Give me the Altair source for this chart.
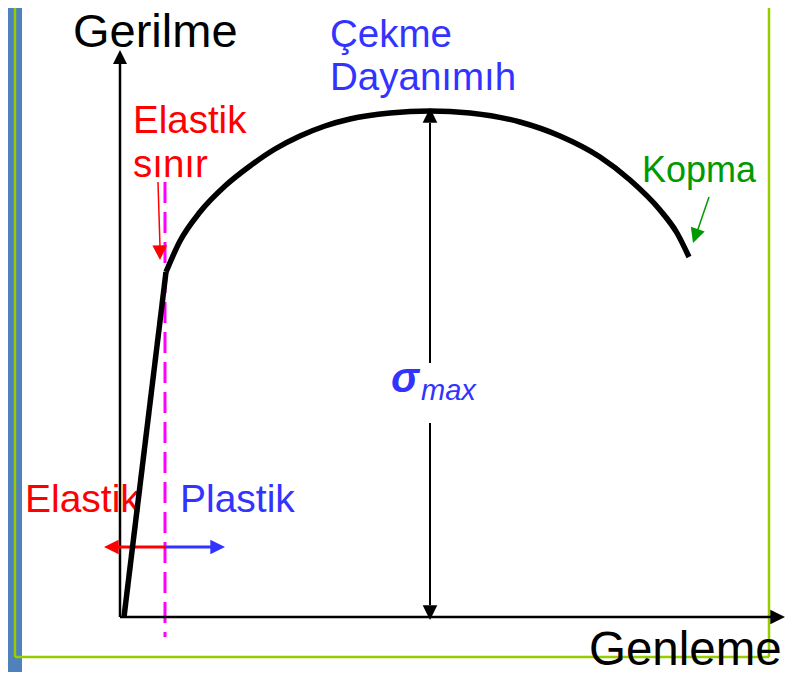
import altair as alt
import pandas as pd

# ---- data (strain = horizontal units from origin, stress = vertical units from origin) ----
elastic_strain = [4, 46]
elastic_stress = [0, 345]

plastic_strain = [46, 60, 80, 105, 130, 155, 180, 205, 230, 270, 310, 350, 400, 440, 480, 510, 540, 557, 569]
plastic_stress = [345, 376, 405, 431, 451, 468, 481, 491, 498, 504, 506, 504, 495, 481, 460, 437, 407, 384, 360]

sigma_max_strain = 310
elastic_limit_strain = 45

labels_main = ["Gerilme", "Genleme"]
labels_red = ["Elastik", "sınır", "Elastik"]
labels_blue = ["Çekme", "Dayanımıh", "Plastik"]
label_green = ["Kopma"]

W, H = 778, 664
xs = alt.Scale(domain=[-112, 666], nice=False, zero=False)
ys = alt.Scale(domain=[-55, 609], nice=False, zero=False)
FONT = "Liberation Sans"


def X(f):
    return alt.X(f, type="quantitative", scale=xs, axis=None)


def Y(f):
    return alt.Y(f, type="quantitative", scale=ys, axis=None)


# ---- frame ----
band = pd.DataFrame({"s1": [-112], "s2": [-98], "t1": [-55], "t2": [609]})
band_layer = alt.Chart(band).mark_rect(color="#4F81BD").encode(
    x=X("s1"), x2="s2", y=Y("t1"), y2="t2")

frame = pd.DataFrame({
    "s1": [-105, 649, -105],
    "t1": [609, 609, -40],
    "s2": [-105, 649, 649],
    "t2": [-40, -40, -40],
})
frame_layer = alt.Chart(frame).mark_rule(color="#99CC00", strokeWidth=2.5).encode(
    x=X("s1"), y=Y("t1"), x2="s2", y2="t2")

# ---- straight segments ----
segs = pd.DataFrame({
    "s1": [0, 0, sigma_max_strain, sigma_max_strain, elastic_limit_strain, elastic_limit_strain, 38, 589],
    "t1": [0, 0, 494, 194, 70, 70, 435, 420],
    "s2": [0, 652, sigma_max_strain, sigma_max_strain, -8, 92, 40, 577],
    "t2": [555, 0, 254, 12, 70, 70, 370, 385],
    "c": ["black", "black", "black", "black", "#FF0000", "#3333FF", "#FF0000", "#009900"],
    "w": [2.5, 2.5, 2, 2, 3, 3, 1.5, 1.5],
})
seg_layer = alt.Chart(segs).mark_rule().encode(
    x=X("s1"), y=Y("t1"), x2="s2", y2="t2",
    color=alt.Color("c:N", scale=None),
    strokeWidth=alt.StrokeWidth("w:Q", scale=None))

dash = pd.DataFrame({"s1": [elastic_limit_strain], "t1": [435], "t2": [-20]})
dash_layer = alt.Chart(dash).mark_rule(color="#FF00FF", strokeWidth=3, strokeDash=[21, 9]).encode(
    x=X("s1"), y=Y("t1"), y2="t2")

# ---- arrow heads ----
heads = pd.DataFrame({
    "s": [0, 665, sigma_max_strain, sigma_max_strain, -16, 105, 40, 573],
    "t": [567, 0, 509, -3, 70, 70, 357, 374],
    "a": [0, 90, 0, 180, 270, 90, 179, 199],
    "c": ["black", "black", "black", "black", "#FF0000", "#3333FF", "#FF0000", "#009900"],
    "sz": [784, 860, 860, 860, 860, 860, 860, 860],
})
head_layer = alt.Chart(heads).mark_point(
    shape="M0,0L0.5,1L-0.5,1Z", filled=True, opacity=1, strokeWidth=0).encode(
    x=X("s"), y=Y("t"),
    angle=alt.Angle("a:Q", scale=None),
    color=alt.Color("c:N", scale=None),
    size=alt.Size("sz:Q", scale=None))

# ---- curve ----
el = pd.DataFrame({"s": elastic_strain, "t": elastic_stress})
pl = pd.DataFrame({"s": plastic_strain, "t": plastic_stress})
el_layer = alt.Chart(el).mark_line(color="black", strokeWidth=5.5, strokeCap="butt").encode(
    x=X("s"), y=Y("t"))
pl_layer = alt.Chart(pl).mark_line(color="black", strokeWidth=5.5, strokeCap="butt",
                                   interpolate="monotone").encode(x=X("s"), y=Y("t"))

# ---- texts ----
texts = pd.DataFrame({
    "txt": labels_main + labels_red + labels_blue + label_green,
    "s": [-47, 469, 13, 13, -95, 210, 210, 60, 522],
    "t": [570, -48, 484, 440, 105, 570, 527, 105, 435],
    "c": ["black", "black", "#FF0000", "#FF0000", "#FF0000", "#3333FF", "#3333FF", "#3333FF", "#009900"],
    "fs": [47, 47.5, 38.5, 38.5, 39, 38.5, 38.5, 39, 36],
})
text_layer = alt.Chart(texts).mark_text(align="left", baseline="alphabetic", font=FONT).encode(
    x=X("s"), y=Y("t"), text="txt:N",
    color=alt.Color("c:N", scale=None),
    size=alt.Size("fs:Q", scale=None))

sig = pd.DataFrame({"txt": ["σ"], "s": [271], "t": [225]})
sig_layer = alt.Chart(sig).mark_text(align="left", baseline="alphabetic", font=FONT,
                                     fontSize=42, fontStyle="italic", fontWeight="bold",
                                     color="#3333FF").encode(x=X("s"), y=Y("t"), text="txt:N")
mx = pd.DataFrame({"txt": ["max"], "s": [301], "t": [217]})
mx_layer = alt.Chart(mx).mark_text(align="left", baseline="alphabetic", font=FONT,
                                   fontSize=29, fontStyle="italic",
                                   color="#3333FF").encode(x=X("s"), y=Y("t"), text="txt:N")

chart = alt.layer(
    band_layer, frame_layer, text_layer, dash_layer, seg_layer, head_layer,
    el_layer, pl_layer, sig_layer, mx_layer
).properties(
    width=W, height=H, padding=0, autosize=alt.AutoSizeParams(type="none"),
    background="white"
).configure_view(stroke=None)

chart.save("out.html", embed_options={"renderer": "svg", "actions": False})
